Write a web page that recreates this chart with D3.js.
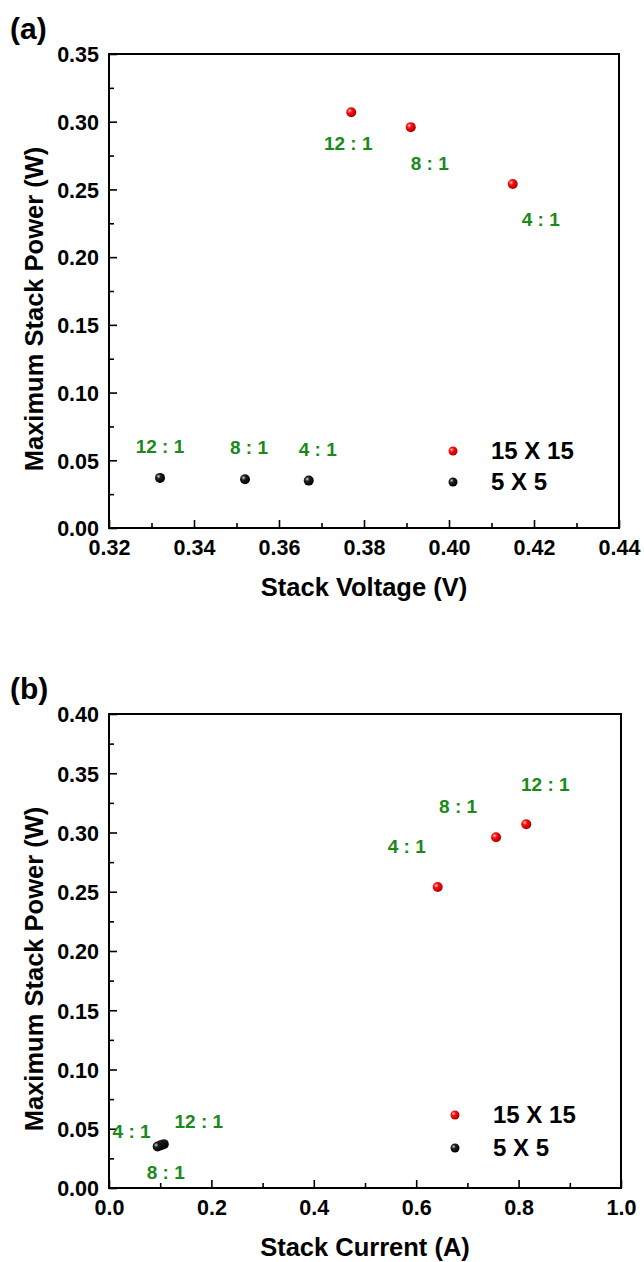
<!DOCTYPE html>
<html>
<head>
<meta charset="utf-8">
<script src="https://cdn.jsdelivr.net/npm/d3@7"></script>
<style>
  body { margin: 0; background: #fff; }
  text { font-family: 'Liberation Sans', Arial, sans-serif; font-weight: bold; }
</style>
</head>
<body>
<svg id="chart"></svg>
<script>
// data
const ratios = ['12 : 1', '8 : 1', '4 : 1'];
const seriesNames = ['15 X 15', '5 X 5'];
const voltage15 = [0.377, 0.391, 0.415];
const voltage5 = [0.332, 0.352, 0.367];
const current15 = [0.815, 0.756, 0.642];
const current5 = [0.107, 0.101, 0.095];
const power15 = [0.307, 0.296, 0.254];
const power5 = [0.037, 0.036, 0.035];
const voltageTicks = [0.32, 0.34, 0.36, 0.38, 0.40, 0.42, 0.44];
const currentTicks = [0.0, 0.2, 0.4, 0.6, 0.8, 1.0];
const powerTicksA = [0.00, 0.05, 0.10, 0.15, 0.20, 0.25, 0.30, 0.35];
const powerTicksB = [0.00, 0.05, 0.10, 0.15, 0.20, 0.25, 0.30, 0.35, 0.40];

const width = 644;
const height = 1262;
const svg = d3.select('#chart').attr('width', width).attr('height', height);

const defs = svg.append('defs');
const addBall = (id, hi, mid, dark) => {
  const g = defs.append('radialGradient').attr('id', id)
    .attr('cx', '35%').attr('cy', '35%').attr('r', '65%');
  g.append('stop').attr('offset', '0%').attr('stop-color', hi);
  g.append('stop').attr('offset', '35%').attr('stop-color', mid);
  g.append('stop').attr('offset', '100%').attr('stop-color', dark);
};
addBall('ballRed', '#ffd0d0', '#ff1010', '#b00000');
addBall('ballBlack', '#d0d0d0', '#202020', '#000000');
const fills = ['url(#ballRed)', 'url(#ballBlack)'];
const labelGreen = '#1a8a1a';
const fontFamily = "'Liberation Sans', Arial, sans-serif";

const drawPanel = cfg => {
  const { box, xDomain, yDomain, xTicks, yTicks, xFmt, xTitle, tag } = cfg;
  const x = d3.scaleLinear().domain(xDomain).range([box.left, box.right]);
  const y = d3.scaleLinear().domain(yDomain).range([box.bottom, box.top]);
  const g = svg.append('g');

  // minor ticks sit halfway between the majors
  const xStep = xTicks[1] - xTicks[0];
  const yStep = yTicks[1] - yTicks[0];
  const xMinor = xTicks.slice(0, -1).map(v => v + xStep / 2);
  const yMinor = yTicks.slice(0, -1).map(v => v + yStep / 2);

  const xAxis = g.append('g').attr('transform', `translate(0,${box.bottom})`)
    .call(d3.axisBottom(x).tickValues(xTicks).tickSize(-8).tickFormat(xFmt).tickPadding(12));
  g.append('g').attr('transform', `translate(0,${box.bottom})`)
    .call(d3.axisBottom(x).tickValues(xMinor).tickSize(-5).tickFormat(''));
  const yAxis = g.append('g').attr('transform', `translate(${box.left},0)`)
    .call(d3.axisLeft(y).tickValues(yTicks).tickSize(-8).tickFormat(d3.format('.2f')).tickPadding(10));
  g.append('g').attr('transform', `translate(${box.left},0)`)
    .call(d3.axisLeft(y).tickValues(yMinor).tickSize(-5).tickFormat(''));

  g.selectAll('.domain').remove();
  g.selectAll('.tick line').attr('stroke', '#000').attr('stroke-width', 1.6);
  xAxis.selectAll('text').attr('font-size', 21.5).attr('fill', '#000')
    .attr('font-family', fontFamily).attr('font-weight', 'bold');
  yAxis.selectAll('text').attr('font-size', 21.5).attr('fill', '#000')
    .attr('font-family', fontFamily).attr('font-weight', 'bold')
    .attr('dy', '0.36em');

  g.append('rect')
    .attr('x', box.left).attr('y', box.top)
    .attr('width', box.right - box.left).attr('height', box.bottom - box.top)
    .attr('fill', 'none').attr('stroke', '#000').attr('stroke-width', 2);

  // axis titles
  g.append('text')
    .attr('x', (box.left + box.right) / 2).attr('y', box.bottom + 68)
    .attr('text-anchor', 'middle').attr('font-size', 25.5)
    .text(xTitle);
  g.append('text')
    .attr('transform', `translate(43,${(box.top + box.bottom) / 2 + 18}) rotate(-90)`)
    .attr('text-anchor', 'middle').attr('font-size', 25.5)
    .text('Maximum Stack Power (W)');
  g.append('text')
    .attr('x', 10).attr('y', box.top - 15)
    .attr('font-size', 30)
    .text(tag);

  // points and ratio labels
  cfg.series.forEach((s, si) => {
    const pts = s.xs.map((v, i) => ({ x: v, y: s.ys[i], label: ratios[i], off: s.offsets[i] }));
    g.selectAll(null).data(pts).enter().append('circle')
      .attr('cx', d => x(d.x)).attr('cy', d => y(d.y)).attr('r', 5)
      .attr('fill', fills[si]);
    g.selectAll(null).data(pts).enter().append('text')
      .attr('x', d => x(d.x) + d.off[0]).attr('y', d => y(d.y) + d.off[1])
      .attr('text-anchor', 'middle').attr('font-size', 19).attr('fill', labelGreen)
      .text(d => d.label);
  });

  // legend
  seriesNames.forEach((name, i) => {
    const ly = box.bottom + cfg.legendRows[i];
    g.append('circle').attr('cx', box.right - 166).attr('cy', ly).attr('r', 4.5).attr('fill', fills[i]);
    g.append('text').attr('x', box.right - 128).attr('y', ly + 8)
      .attr('font-size', 24).text(name);
  });
};

drawPanel({
  tag: '(a)',
  box: { left: 109, right: 619, top: 54, bottom: 528 },
  xDomain: [0.32, 0.44], yDomain: [0, 0.35],
  xTicks: voltageTicks, yTicks: powerTicksA,
  xFmt: d3.format('.2f'), xTitle: 'Stack Voltage (V)',
  legendRows: [-77, -46],
  series: [
    { xs: voltage15, ys: power15, offsets: [[-3, 38], [19, 43], [28, 42]] },
    { xs: voltage5, ys: power5, offsets: [[0, -25], [4, -25], [9, -25]] }
  ]
});

drawPanel({
  tag: '(b)',
  box: { left: 109, right: 621, top: 714, bottom: 1188 },
  xDomain: [0, 1.0], yDomain: [0, 0.40],
  xTicks: currentTicks, yTicks: powerTicksB,
  xFmt: d3.format('.1f'), xTitle: 'Stack Current (A)',
  legendRows: [-73, -40],
  series: [
    { xs: current15, ys: power15, offsets: [[19, -33], [-38, -24], [-31, -34]] },
    { xs: current5, ys: power5, offsets: [[35, -16], [5, 34], [-26, -9]] }
  ]
});
</script>
</body>
</html>
